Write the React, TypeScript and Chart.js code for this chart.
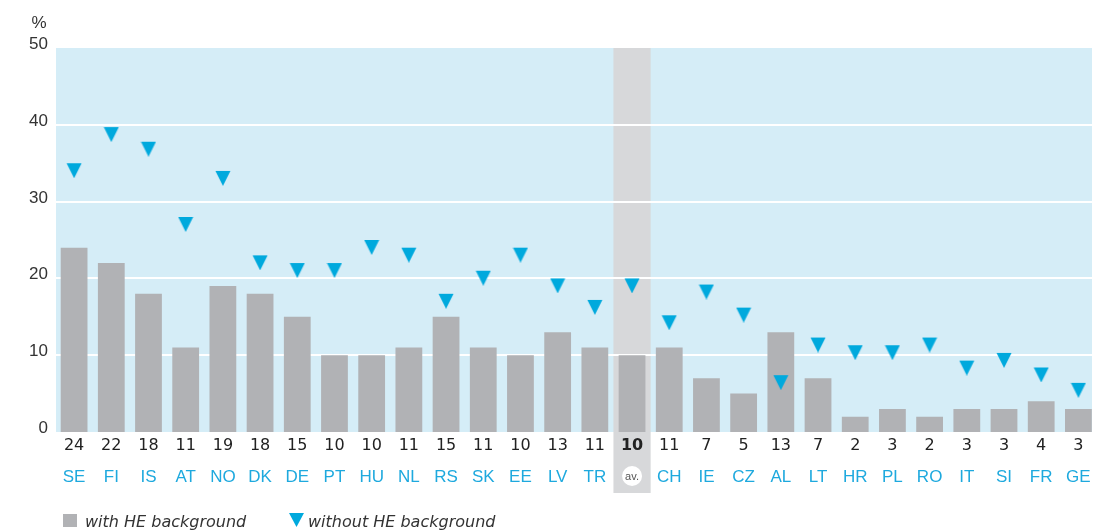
import React, { useEffect, useRef } from "react";
import { Chart, registerables } from "chart.js";

Chart.register(...registerables);

const categories = ["SE","FI","IS","AT","NO","DK","DE","PT","HU","NL","RS","SK","EE","LV","TR","av.","CH","IE","CZ","AL","LT","HR","PL","RO","IT","SI","FR","GE"];
const withHE = [24,22,18,11,19,18,15,10,10,11,15,11,10,13,11,10,11,7,5,13,7,2,3,2,3,3,4,3];
const withoutHE = [35,39.7,37.8,28,34,23,22,22,25,24,18,21,24,20,17.2,20,15.2,19.2,16.2,7.4,12.3,11.3,11.3,12.3,9.3,10.3,8.4,6.4];
const yTicks = [0,10,20,30,40,50];
const gridValues = [10,20,30,40];
const legendLabels = ["with HE background","without HE background"];
const unitLabel = "%";
const avgKey = "av.";

const BLUE_BG = "#d5edf7";
const AV_BG = "#d7d8da";
const BAR = "#b1b2b5";
const TRI = "#00a9dd";
const CODE = "#1ea9de";
const FONT = "'Liberation Sans', Arial, sans-serif";
const NUMFONT = "'DejaVu Sans', sans-serif";

function makeTriangle(): HTMLCanvasElement {
  const c = document.createElement("canvas");
  c.width = 16;
  c.height = 30;
  const g = c.getContext("2d")!;
  g.fillStyle = TRI;
  g.beginPath();
  g.moveTo(0.5, 15);
  g.lineTo(15.5, 15);
  g.lineTo(8, 30);
  g.closePath();
  g.fill();
  return c;
}

export default function App() {
  const ref = useRef<HTMLCanvasElement | null>(null);

  useEffect(() => {
    if (!ref.current) return;
    const tri = makeTriangle();
    const avIdx = categories.indexOf(avgKey);

    const decor = {
      id: "decor",
      beforeDatasetsDraw(chart: any) {
        const { ctx, chartArea, scales } = chart;
        const x = scales.x, y = scales.y;
        const left = 56, right = 1092;
        const top = y.getPixelForValue(50), bottom = y.getPixelForValue(0);
        const step = chartArea.width / categories.length;
        ctx.save();
        ctx.fillStyle = BLUE_BG;
        ctx.fillRect(left, top, right - left, bottom - top);
        const ax = x.getPixelForValue(avIdx);
        ctx.fillStyle = AV_BG;
        ctx.fillRect(ax - step / 2, top, step, 493 - top);
        ctx.strokeStyle = "#ffffff";
        ctx.lineWidth = 2;
        gridValues.forEach((v) => {
          const py = Math.round(y.getPixelForValue(v));
          ctx.beginPath();
          ctx.moveTo(left, py);
          ctx.lineTo(right, py);
          ctx.stroke();
        });
        ctx.restore();
      },
      afterDraw(chart: any) {
        const { ctx, scales } = chart;
        const x = scales.x, y = scales.y;
        ctx.save();
        // y ticks
        ctx.fillStyle = "#333333";
        ctx.font = `17px ${FONT}`;
        ctx.textAlign = "right";
        ctx.textBaseline = "alphabetic";
        yTicks.forEach((v) => {
          ctx.fillText(String(v), 48, y.getPixelForValue(v) + 1);
        });
        ctx.textAlign = "center";
        ctx.fillText(unitLabel, 39, 28);
        // x labels
        categories.forEach((c, i) => {
          const px = x.getPixelForValue(i);
          ctx.fillStyle = "#222222";
          ctx.font = (i === avIdx ? "bold " : "") + `16px ${NUMFONT}`;
          ctx.textAlign = "center";
          ctx.fillText(String(withHE[i]), px, 450);
          if (i === avIdx) {
            ctx.fillStyle = "#ffffff";
            ctx.beginPath();
            ctx.arc(px, 476, 10, 0, Math.PI * 2);
            ctx.fill();
            ctx.fillStyle = "#555555";
            ctx.font = `11px ${FONT}`;
            ctx.fillText(c, px, 480);
          } else {
            ctx.fillStyle = CODE;
            ctx.font = `17px ${FONT}`;
            ctx.fillText(c, px, 482);
          }
        });
        // legend
        ctx.fillStyle = BAR;
        ctx.fillRect(63, 514, 14, 13);
        ctx.fillStyle = "#333333";
        ctx.font = `italic 16px ${NUMFONT}`;
        ctx.textAlign = "left";
        ctx.fillText(legendLabels[0], 85, 527);
        ctx.fillStyle = TRI;
        ctx.beginPath();
        ctx.moveTo(289, 513);
        ctx.lineTo(304, 513);
        ctx.lineTo(296.5, 527);
        ctx.closePath();
        ctx.fill();
        ctx.fillStyle = "#333333";
        ctx.fillText(legendLabels[1], 308, 527);
        ctx.restore();
      },
    };

    const chart = new Chart(ref.current, {
      type: "bar",
      data: {
        labels: categories,
        datasets: [
          {
            type: "line",
            label: legendLabels[1],
            data: withoutHE,
            showLine: false,
            pointStyle: tri as any,
            pointRadius: 8,
            order: 0,
            clip: false,
          } as any,
          {
            type: "bar",
            label: legendLabels[0],
            data: withHE,
            backgroundColor: BAR,
            barPercentage: 0.72,
            categoryPercentage: 1,
            order: 1,
          },
        ],
      },
      options: {
        responsive: false,
        animation: false,
        devicePixelRatio: 1,
        layout: { autoPadding: false, padding: { left: 55.5, right: 3, top: 48, bottom: 98 } },
        plugins: { legend: { display: false }, tooltip: { enabled: false } },
        scales: {
          x: { display: false, offset: true },
          y: { display: false, min: 0, max: 50 },
        },
      },
      plugins: [decor],
    });
    return () => chart.destroy();
  }, []);

  return (
    <div style={{ position: "absolute", left: 0, top: 0, width: 1095, height: 530, overflow: "hidden", background: "#ffffff" }}>
      <canvas ref={ref} width={1100} height={530} style={{ display: "block" }} />
    </div>
  );
}
